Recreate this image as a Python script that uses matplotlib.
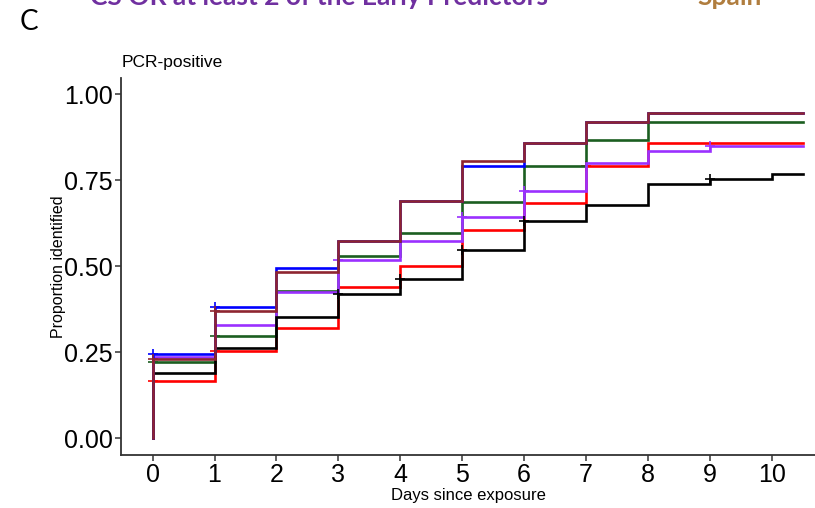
import numpy as np
import matplotlib
matplotlib.use('Agg')
import matplotlib.pyplot as plt

# proportion identified at each day (value held from day d to d+1)
days = [0, 1, 2, 3, 4, 5, 6, 7, 8, 9, 10]
blue_vals = [0.243, 0.382, 0.495, 0.574, 0.690, 0.792, 0.857, 0.919, 0.946, 0.946, 0.946]
brown_vals = [0.229, 0.369, 0.483, 0.574, 0.690, 0.805, 0.857, 0.919, 0.946, 0.946, 0.946]
green_vals = [0.220, 0.297, 0.427, 0.529, 0.596, 0.685, 0.790, 0.867, 0.919, 0.919, 0.919]
purple_vals = [0.235, 0.329, 0.425, 0.517, 0.573, 0.643, 0.718, 0.800, 0.834, 0.850, 0.850]
red_vals = [0.166, 0.254, 0.319, 0.438, 0.500, 0.605, 0.684, 0.791, 0.857, 0.857, 0.857]
black_vals = [0.188, 0.262, 0.353, 0.418, 0.463, 0.547, 0.631, 0.677, 0.738, 0.754, 0.769]

# censoring marks (days)
blue_cens = [0, 1]
brown_cens = [0, 1]
green_cens = [0, 1]
purple_cens = [3, 5, 6, 9]
red_cens = [0, 1, 7]
black_cens = [3, 4, 5, 6, 9]

x_ticks = [0, 1, 2, 3, 4, 5, 6, 7, 8, 9, 10]
y_ticks = [0.0, 0.25, 0.5, 0.75, 1.0]
y_ticklabels = ['0.00', '0.25', '0.50', '0.75', '1.00']
t_end = 10.5

# drawing order: later curves sit on top
series = [
    (red_vals, red_cens, '#FF0000'),
    (green_vals, green_cens, '#1B5E20'),
    (purple_vals, purple_cens, '#9B30FF'),
    (black_vals, black_cens, 'black'),
    (blue_vals, blue_cens, '#0000FF'),
    (brown_vals, brown_cens, '#8E2530'),
]

plt.rcParams['font.family'] = ['Liberation Sans', 'DejaVu Sans']

fig = plt.figure(figsize=(8.15, 5.08), dpi=100)
ax = fig.add_axes([0.1485, 0.1049, 0.8515, 0.7416])

for vals, cens, col in series:
    xs = [0] + list(days) + [t_end]
    ys = [0] + list(vals) + [vals[-1]]
    ax.step(xs, ys, where='post', color=col, lw=1.9, solid_joinstyle='miter')
    cy = [vals[days.index(c)] for c in cens]
    ax.plot(cens, cy, linestyle='none', marker='+', color=col, ms=6.5, mew=1.2)

ax.set_xlim(-0.51, 10.7)
ax.set_ylim(-0.0485, 1.047)
ax.set_xticks(x_ticks)
ax.set_xticklabels([str(t) for t in x_ticks])
ax.set_yticks(y_ticks)
ax.set_yticklabels(y_ticklabels)
ax.tick_params(axis='both', labelsize=18, length=4, width=1.1, color='#333333', pad=2)

for side in ['top', 'right']:
    ax.spines[side].set_visible(False)
for side in ['left', 'bottom']:
    ax.spines[side].set_color('#333333')
    ax.spines[side].set_linewidth(1.3)

ax.set_xlabel('Days since exposure', fontsize=12, labelpad=1)
ax.set_ylabel('Proportion identified', fontsize=11.5)
ax.yaxis.set_label_coords(-0.080, 0.5)

fig.text(122 / 815, 1 - 62 / 508, 'PCR-positive', fontsize=12.5, va='center', ha='left')
fig.text(20 / 815, 1 - 22 / 508, 'C', fontsize=20, va='center', ha='left', family='Lato')
fig.text(90 / 815, 1 - 5 / 508, 'CS OR at least 2 of the Early Predictors', fontsize=19,
         fontweight='bold', color='#7030A0', va='baseline', ha='left', family='Lato')
fig.text(697 / 815, 1 - 5 / 508, 'Spain', fontsize=19, fontweight='bold',
         color='#B07D3E', va='baseline', ha='left', family='Lato')

fig.savefig('out.png', dpi=100)
